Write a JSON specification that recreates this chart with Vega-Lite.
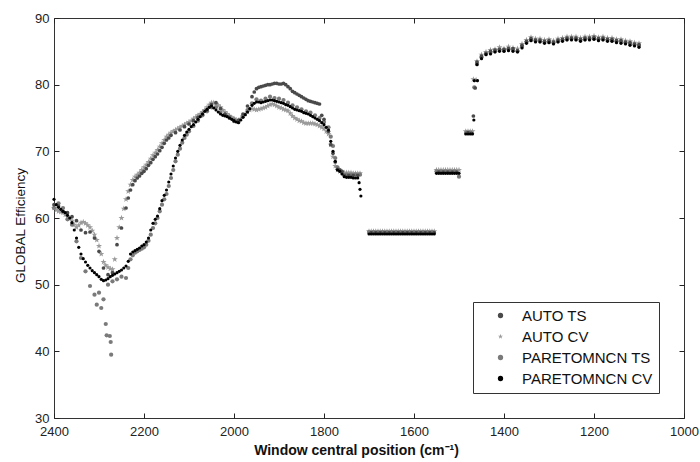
{
"$schema": "https://vega.github.io/schema/vega-lite/v6.json",
"width": 630, "height": 400,
"autosize": {"type": "none"},
"padding": {"left": 54, "top": 18, "right": 16, "bottom": 44},
"background": "white",
"config": {
  "font": "Liberation Sans",
  "view": {"stroke": "#333", "strokeWidth": 1},
  "axis": {"grid": false, "domain": false, "labelFont": "Liberation Sans", "labelFontSize": 13, "labelColor": "#222", "tickColor": "#222", "tickSize": 5, "tickWidth": 1, "labelFlush": false, "labelOverlap": false, "titleFont": "Liberation Sans", "titleColor": "#111"},
  "legend": {"labelFont": "Liberation Sans", "labelFontSize": 15, "labelColor": "#111", "strokeColor": "#333", "fillColor": "#fff", "padding": 6, "rowPadding": 5, "symbolSize": 28, "labelOffset": 14, "symbolOffset": 14}
},
"datasets": {
"pts": [
{"series":"AUTO CV","x":2400,"y":61.5},{"series":"AUTO CV","x":2390,"y":61.0},{"series":"AUTO CV","x":2380,"y":60.8},{"series":"AUTO CV","x":2370,"y":60.2},{"series":"AUTO CV","x":2360,"y":59.6},{"series":"AUTO CV","x":2350,"y":58.6},{"series":"AUTO CV","x":2340,"y":59.3},{"series":"AUTO CV","x":2330,"y":59.2},{"series":"AUTO CV","x":2320,"y":58.6},{"series":"AUTO CV","x":2310,"y":57.5},{"series":"AUTO CV","x":2300,"y":55.8},{"series":"AUTO CV","x":2290,"y":53.4},{"series":"AUTO CV","x":2280,"y":52.6},{"series":"AUTO CV","x":2270,"y":52.3},{"series":"AUTO CV","x":2265,"y":53.8},{"series":"AUTO CV","x":2260,"y":57.0},{"series":"AUTO CV","x":2250,"y":60.0},{"series":"AUTO CV","x":2240,"y":62.8},{"series":"AUTO CV","x":2230,"y":65.0},{"series":"AUTO CV","x":2220,"y":66.2},{"series":"AUTO CV","x":2210,"y":66.8},{"series":"AUTO CV","x":2200,"y":67.6},{"series":"AUTO CV","x":2190,"y":68.4},{"series":"AUTO CV","x":2180,"y":69.4},{"series":"AUTO CV","x":2170,"y":70.2},{"series":"AUTO CV","x":2160,"y":71.2},{"series":"AUTO CV","x":2150,"y":72.2},{"series":"AUTO CV","x":2140,"y":72.8},{"series":"AUTO CV","x":2130,"y":73.2},{"series":"AUTO CV","x":2120,"y":73.6},{"series":"AUTO CV","x":2110,"y":74.0},{"series":"AUTO CV","x":2100,"y":74.4},{"series":"AUTO CV","x":2090,"y":74.9},{"series":"AUTO CV","x":2080,"y":75.4},{"series":"AUTO CV","x":2070,"y":75.9},{"series":"AUTO CV","x":2060,"y":76.6},{"series":"AUTO CV","x":2050,"y":77.3},{"series":"AUTO CV","x":2040,"y":77.1},{"series":"AUTO CV","x":2030,"y":76.6},{"series":"AUTO CV","x":2020,"y":75.9},{"series":"AUTO CV","x":2010,"y":75.3},{"series":"AUTO CV","x":2000,"y":74.9},{"series":"AUTO CV","x":1990,"y":74.6},{"series":"AUTO CV","x":1980,"y":75.3},{"series":"AUTO CV","x":1970,"y":75.9},{"series":"AUTO CV","x":1960,"y":76.4},{"series":"AUTO CV","x":1950,"y":76.2},{"series":"AUTO CV","x":1940,"y":76.4},{"series":"AUTO CV","x":1930,"y":76.6},{"series":"AUTO CV","x":1920,"y":77.0},{"series":"AUTO CV","x":1910,"y":77.0},{"series":"AUTO CV","x":1900,"y":76.6},{"series":"AUTO CV","x":1890,"y":76.3},{"series":"AUTO CV","x":1880,"y":76.1},{"series":"AUTO CV","x":1870,"y":75.3},{"series":"AUTO CV","x":1860,"y":74.8},{"series":"AUTO CV","x":1850,"y":74.5},{"series":"AUTO CV","x":1840,"y":74.2},{"series":"AUTO CV","x":1830,"y":74.2},{"series":"AUTO CV","x":1820,"y":74.1},{"series":"AUTO CV","x":1810,"y":73.8},{"series":"AUTO CV","x":1800,"y":73.4},{"series":"AUTO CV","x":1790,"y":72.6},{"series":"AUTO CV","x":1785,"y":71.0},{"series":"AUTO CV","x":1780,"y":69.2},{"series":"AUTO CV","x":1775,"y":67.8},{"series":"AUTO CV","x":1770,"y":67.2},{"series":"AUTO CV","x":1765,"y":67.0},{"series":"AUTO CV","x":1760,"y":66.9},{"series":"AUTO CV","x":1755,"y":66.8},{"series":"AUTO CV","x":1750,"y":66.8},{"series":"AUTO CV","x":1745,"y":66.8},{"series":"AUTO CV","x":1740,"y":66.8},{"series":"AUTO CV","x":1735,"y":66.7},{"series":"AUTO CV","x":1730,"y":66.7},{"series":"AUTO CV","x":1725,"y":66.7},{"series":"AUTO CV","x":1720,"y":66.7},
{"series":"AUTO CV","x":2395,"y":61.2},{"series":"AUTO CV","x":2385,"y":60.9},{"series":"AUTO CV","x":2375,"y":60.5},{"series":"AUTO CV","x":2365,"y":59.9},{"series":"AUTO CV","x":2355,"y":59.0},{"series":"AUTO CV","x":2345,"y":58.9},{"series":"AUTO CV","x":2335,"y":59.4},{"series":"AUTO CV","x":2325,"y":58.9},{"series":"AUTO CV","x":2315,"y":58.1},{"series":"AUTO CV","x":2305,"y":56.7},{"series":"AUTO CV","x":2295,"y":54.6},{"series":"AUTO CV","x":2285,"y":52.9},{"series":"AUTO CV","x":2275,"y":52.4},{"series":"AUTO CV","x":2255,"y":58.6},{"series":"AUTO CV","x":2245,"y":61.4},{"series":"AUTO CV","x":2235,"y":64.0},{"series":"AUTO CV","x":2225,"y":65.7},{"series":"AUTO CV","x":2215,"y":66.5},{"series":"AUTO CV","x":2205,"y":67.2},{"series":"AUTO CV","x":2195,"y":68.0},{"series":"AUTO CV","x":2185,"y":68.9},{"series":"AUTO CV","x":2175,"y":69.8},{"series":"AUTO CV","x":2165,"y":70.7},{"series":"AUTO CV","x":2155,"y":71.7},{"series":"AUTO CV","x":2145,"y":72.5},{"series":"AUTO CV","x":2135,"y":73.0},{"series":"AUTO CV","x":2125,"y":73.4},{"series":"AUTO CV","x":2115,"y":73.8},{"series":"AUTO CV","x":2105,"y":74.2},{"series":"AUTO CV","x":2095,"y":74.6},{"series":"AUTO CV","x":2085,"y":75.1},{"series":"AUTO CV","x":2075,"y":75.6},{"series":"AUTO CV","x":2065,"y":76.2},{"series":"AUTO CV","x":2055,"y":77.0},{"series":"AUTO CV","x":2045,"y":77.3},{"series":"AUTO CV","x":2035,"y":76.9},{"series":"AUTO CV","x":2025,"y":76.2},{"series":"AUTO CV","x":2015,"y":75.6},{"series":"AUTO CV","x":2005,"y":75.1},{"series":"AUTO CV","x":1995,"y":74.7},{"series":"AUTO CV","x":1985,"y":74.9},{"series":"AUTO CV","x":1975,"y":75.6},{"series":"AUTO CV","x":1965,"y":76.2},{"series":"AUTO CV","x":1955,"y":76.3},{"series":"AUTO CV","x":1945,"y":76.3},{"series":"AUTO CV","x":1935,"y":76.5},{"series":"AUTO CV","x":1925,"y":76.8},{"series":"AUTO CV","x":1915,"y":77.1},{"series":"AUTO CV","x":1905,"y":76.8},{"series":"AUTO CV","x":1895,"y":76.5},{"series":"AUTO CV","x":1885,"y":76.2},{"series":"AUTO CV","x":1875,"y":75.7},{"series":"AUTO CV","x":1865,"y":75.0},{"series":"AUTO CV","x":1855,"y":74.6},{"series":"AUTO CV","x":1845,"y":74.3},{"series":"AUTO CV","x":1835,"y":74.2},{"series":"AUTO CV","x":1825,"y":74.2},{"series":"AUTO CV","x":1815,"y":74.0},{"series":"AUTO CV","x":1805,"y":73.6},{"series":"AUTO CV","x":1795,"y":73.0},
{"series":"AUTO CV","x":1700,"y":58.0},{"series":"AUTO CV","x":1695,"y":58.0},{"series":"AUTO CV","x":1690,"y":58.0},{"series":"AUTO CV","x":1685,"y":58.0},{"series":"AUTO CV","x":1680,"y":58.0},{"series":"AUTO CV","x":1675,"y":58.0},{"series":"AUTO CV","x":1670,"y":58.0},{"series":"AUTO CV","x":1665,"y":58.0},{"series":"AUTO CV","x":1660,"y":58.0},{"series":"AUTO CV","x":1655,"y":58.0},{"series":"AUTO CV","x":1650,"y":58.0},{"series":"AUTO CV","x":1645,"y":58.0},{"series":"AUTO CV","x":1640,"y":58.0},{"series":"AUTO CV","x":1635,"y":58.0},{"series":"AUTO CV","x":1630,"y":58.0},{"series":"AUTO CV","x":1625,"y":58.0},{"series":"AUTO CV","x":1620,"y":58.0},{"series":"AUTO CV","x":1615,"y":58.0},{"series":"AUTO CV","x":1610,"y":58.0},{"series":"AUTO CV","x":1605,"y":58.0},{"series":"AUTO CV","x":1600,"y":58.0},{"series":"AUTO CV","x":1595,"y":58.0},{"series":"AUTO CV","x":1590,"y":58.0},{"series":"AUTO CV","x":1585,"y":58.0},{"series":"AUTO CV","x":1580,"y":58.0},{"series":"AUTO CV","x":1575,"y":58.0},{"series":"AUTO CV","x":1570,"y":58.0},{"series":"AUTO CV","x":1565,"y":58.0},{"series":"AUTO CV","x":1560,"y":58.0},{"series":"AUTO CV","x":1555,"y":58.0},
{"series":"AUTO CV","x":1550,"y":67.2},{"series":"AUTO CV","x":1545,"y":67.2},{"series":"AUTO CV","x":1540,"y":67.2},{"series":"AUTO CV","x":1535,"y":67.2},{"series":"AUTO CV","x":1530,"y":67.2},{"series":"AUTO CV","x":1525,"y":67.2},{"series":"AUTO CV","x":1520,"y":67.2},{"series":"AUTO CV","x":1515,"y":67.2},{"series":"AUTO CV","x":1510,"y":67.2},{"series":"AUTO CV","x":1505,"y":67.2},{"series":"AUTO CV","x":1500,"y":67.2},
{"series":"AUTO CV","x":1485,"y":73.0},{"series":"AUTO CV","x":1480,"y":73.0},{"series":"AUTO CV","x":1475,"y":73.0},{"series":"AUTO CV","x":1470,"y":73.0},{"series":"AUTO CV","x":1468,"y":80.8},{"series":"AUTO CV","x":1462,"y":80.7},
{"series":"AUTO CV","x":1460,"y":83.5},{"series":"AUTO CV","x":1450,"y":84.5},{"series":"AUTO CV","x":1440,"y":84.9},{"series":"AUTO CV","x":1430,"y":85.2},{"series":"AUTO CV","x":1420,"y":85.3},{"series":"AUTO CV","x":1410,"y":85.6},{"series":"AUTO CV","x":1400,"y":85.4},{"series":"AUTO CV","x":1390,"y":85.7},{"series":"AUTO CV","x":1380,"y":85.5},{"series":"AUTO CV","x":1370,"y":85.4},{"series":"AUTO CV","x":1360,"y":86.1},{"series":"AUTO CV","x":1350,"y":86.7},{"series":"AUTO CV","x":1340,"y":87.1},{"series":"AUTO CV","x":1330,"y":86.9},{"series":"AUTO CV","x":1320,"y":86.9},{"series":"AUTO CV","x":1310,"y":86.7},{"series":"AUTO CV","x":1300,"y":86.8},{"series":"AUTO CV","x":1290,"y":86.6},{"series":"AUTO CV","x":1280,"y":86.9},{"series":"AUTO CV","x":1270,"y":87.0},{"series":"AUTO CV","x":1260,"y":87.2},{"series":"AUTO CV","x":1250,"y":87.2},{"series":"AUTO CV","x":1240,"y":87.2},{"series":"AUTO CV","x":1230,"y":87.0},{"series":"AUTO CV","x":1220,"y":87.2},{"series":"AUTO CV","x":1210,"y":87.2},{"series":"AUTO CV","x":1200,"y":87.3},{"series":"AUTO CV","x":1190,"y":87.1},{"series":"AUTO CV","x":1180,"y":87.2},{"series":"AUTO CV","x":1170,"y":87.0},{"series":"AUTO CV","x":1160,"y":87.0},{"series":"AUTO CV","x":1150,"y":86.8},{"series":"AUTO CV","x":1140,"y":86.8},{"series":"AUTO CV","x":1130,"y":86.6},{"series":"AUTO CV","x":1120,"y":86.5},{"series":"AUTO CV","x":1110,"y":86.3},{"series":"AUTO CV","x":1100,"y":86.2},

{"series":"PARETOMNCN TS","x":2400,"y":61.5},{"series":"PARETOMNCN TS","x":2390,"y":62.2},{"series":"PARETOMNCN TS","x":2380,"y":61.5},{"series":"PARETOMNCN TS","x":2370,"y":59.8},{"series":"PARETOMNCN TS","x":2360,"y":59.0},{"series":"PARETOMNCN TS","x":2350,"y":56.5},{"series":"PARETOMNCN TS","x":2340,"y":54.0},{"series":"PARETOMNCN TS","x":2330,"y":52.0},{"series":"PARETOMNCN TS","x":2320,"y":49.8},{"series":"PARETOMNCN TS","x":2310,"y":48.5},{"series":"PARETOMNCN TS","x":2305,"y":47.0},{"series":"PARETOMNCN TS","x":2300,"y":48.8},{"series":"PARETOMNCN TS","x":2295,"y":46.5},{"series":"PARETOMNCN TS","x":2290,"y":47.8},{"series":"PARETOMNCN TS","x":2285,"y":44.1},{"series":"PARETOMNCN TS","x":2283,"y":42.4},{"series":"PARETOMNCN TS","x":2276,"y":42.3},{"series":"PARETOMNCN TS","x":2274,"y":41.4},{"series":"PARETOMNCN TS","x":2273,"y":39.5},{"series":"PARETOMNCN TS","x":2280,"y":50.0},{"series":"PARETOMNCN TS","x":2270,"y":50.5},{"series":"PARETOMNCN TS","x":2260,"y":50.8},{"series":"PARETOMNCN TS","x":2250,"y":51.2},{"series":"PARETOMNCN TS","x":2240,"y":51.0},{"series":"PARETOMNCN TS","x":2230,"y":53.8},{"series":"PARETOMNCN TS","x":2220,"y":54.8},{"series":"PARETOMNCN TS","x":2210,"y":55.2},{"series":"PARETOMNCN TS","x":2200,"y":55.6},{"series":"PARETOMNCN TS","x":2190,"y":56.6},{"series":"PARETOMNCN TS","x":2180,"y":58.5},{"series":"PARETOMNCN TS","x":2170,"y":60.0},{"series":"PARETOMNCN TS","x":2160,"y":62.0},{"series":"PARETOMNCN TS","x":2150,"y":63.6},{"series":"PARETOMNCN TS","x":2140,"y":66.0},{"series":"PARETOMNCN TS","x":2130,"y":68.5},{"series":"PARETOMNCN TS","x":2120,"y":70.4},{"series":"PARETOMNCN TS","x":2110,"y":72.0},{"series":"PARETOMNCN TS","x":2100,"y":73.0},{"series":"PARETOMNCN TS","x":2090,"y":73.8},{"series":"PARETOMNCN TS","x":2080,"y":74.6},{"series":"PARETOMNCN TS","x":2070,"y":75.4},{"series":"PARETOMNCN TS","x":2060,"y":76.0},{"series":"PARETOMNCN TS","x":2050,"y":76.6},{"series":"PARETOMNCN TS","x":2040,"y":76.6},{"series":"PARETOMNCN TS","x":2030,"y":75.8},{"series":"PARETOMNCN TS","x":2020,"y":75.5},{"series":"PARETOMNCN TS","x":2010,"y":75.2},{"series":"PARETOMNCN TS","x":2000,"y":74.8},{"series":"PARETOMNCN TS","x":1990,"y":74.4},{"series":"PARETOMNCN TS","x":1980,"y":75.3},{"series":"PARETOMNCN TS","x":1970,"y":76.2},{"series":"PARETOMNCN TS","x":1960,"y":77.2},{"series":"PARETOMNCN TS","x":1950,"y":77.8},{"series":"PARETOMNCN TS","x":1940,"y":77.6},{"series":"PARETOMNCN TS","x":1930,"y":77.9},{"series":"PARETOMNCN TS","x":1920,"y":78.2},{"series":"PARETOMNCN TS","x":1910,"y":78.0},{"series":"PARETOMNCN TS","x":1900,"y":77.9},{"series":"PARETOMNCN TS","x":1890,"y":77.7},{"series":"PARETOMNCN TS","x":1880,"y":77.3},{"series":"PARETOMNCN TS","x":1870,"y":76.9},{"series":"PARETOMNCN TS","x":1860,"y":76.6},{"series":"PARETOMNCN TS","x":1850,"y":76.3},{"series":"PARETOMNCN TS","x":1840,"y":76.0},{"series":"PARETOMNCN TS","x":1830,"y":75.8},{"series":"PARETOMNCN TS","x":1820,"y":75.4},{"series":"PARETOMNCN TS","x":1810,"y":75.0},{"series":"PARETOMNCN TS","x":1800,"y":74.4},{"series":"PARETOMNCN TS","x":1790,"y":73.6},{"series":"PARETOMNCN TS","x":1785,"y":72.2},{"series":"PARETOMNCN TS","x":1780,"y":70.8},{"series":"PARETOMNCN TS","x":1775,"y":69.0},{"series":"PARETOMNCN TS","x":1770,"y":67.6},{"series":"PARETOMNCN TS","x":1765,"y":67.2},{"series":"PARETOMNCN TS","x":1760,"y":66.9},{"series":"PARETOMNCN TS","x":1750,"y":66.5},{"series":"PARETOMNCN TS","x":1740,"y":66.5},{"series":"PARETOMNCN TS","x":1730,"y":66.5},{"series":"PARETOMNCN TS","x":1720,"y":66.5},
{"series":"PARETOMNCN TS","x":2235,"y":52.5},{"series":"PARETOMNCN TS","x":2225,"y":54.4},{"series":"PARETOMNCN TS","x":2215,"y":55.0},{"series":"PARETOMNCN TS","x":2205,"y":55.4},{"series":"PARETOMNCN TS","x":2195,"y":56.0},{"series":"PARETOMNCN TS","x":2185,"y":57.5},{"series":"PARETOMNCN TS","x":2175,"y":59.2},{"series":"PARETOMNCN TS","x":2165,"y":61.0},{"series":"PARETOMNCN TS","x":2155,"y":62.8},{"series":"PARETOMNCN TS","x":2145,"y":64.8},{"series":"PARETOMNCN TS","x":2135,"y":67.2},{"series":"PARETOMNCN TS","x":2125,"y":69.5},{"series":"PARETOMNCN TS","x":2115,"y":71.3},{"series":"PARETOMNCN TS","x":2105,"y":72.5},
{"series":"PARETOMNCN TS","x":1700,"y":57.9},{"series":"PARETOMNCN TS","x":1690,"y":57.9},{"series":"PARETOMNCN TS","x":1680,"y":57.9},{"series":"PARETOMNCN TS","x":1670,"y":57.9},{"series":"PARETOMNCN TS","x":1660,"y":57.9},{"series":"PARETOMNCN TS","x":1650,"y":57.9},{"series":"PARETOMNCN TS","x":1640,"y":57.9},{"series":"PARETOMNCN TS","x":1630,"y":57.9},{"series":"PARETOMNCN TS","x":1620,"y":57.9},{"series":"PARETOMNCN TS","x":1610,"y":57.9},{"series":"PARETOMNCN TS","x":1600,"y":57.9},{"series":"PARETOMNCN TS","x":1590,"y":57.9},{"series":"PARETOMNCN TS","x":1580,"y":57.9},{"series":"PARETOMNCN TS","x":1570,"y":57.9},{"series":"PARETOMNCN TS","x":1560,"y":57.9},
{"series":"PARETOMNCN TS","x":1550,"y":67.0},{"series":"PARETOMNCN TS","x":1540,"y":67.0},{"series":"PARETOMNCN TS","x":1530,"y":67.0},{"series":"PARETOMNCN TS","x":1520,"y":67.0},{"series":"PARETOMNCN TS","x":1510,"y":67.0},{"series":"PARETOMNCN TS","x":1500,"y":66.2},
{"series":"PARETOMNCN TS","x":1484,"y":72.8},{"series":"PARETOMNCN TS","x":1476,"y":72.8},{"series":"PARETOMNCN TS","x":1466,"y":79.6},
{"series":"PARETOMNCN TS","x":1460,"y":83.1},{"series":"PARETOMNCN TS","x":1450,"y":84.1},{"series":"PARETOMNCN TS","x":1440,"y":84.6},{"series":"PARETOMNCN TS","x":1430,"y":84.8},{"series":"PARETOMNCN TS","x":1420,"y":85.0},{"series":"PARETOMNCN TS","x":1410,"y":85.2},{"series":"PARETOMNCN TS","x":1400,"y":85.1},{"series":"PARETOMNCN TS","x":1390,"y":85.3},{"series":"PARETOMNCN TS","x":1380,"y":85.2},{"series":"PARETOMNCN TS","x":1370,"y":85.0},{"series":"PARETOMNCN TS","x":1360,"y":85.7},{"series":"PARETOMNCN TS","x":1350,"y":86.4},{"series":"PARETOMNCN TS","x":1340,"y":86.7},{"series":"PARETOMNCN TS","x":1330,"y":86.6},{"series":"PARETOMNCN TS","x":1320,"y":86.5},{"series":"PARETOMNCN TS","x":1310,"y":86.4},{"series":"PARETOMNCN TS","x":1300,"y":86.4},{"series":"PARETOMNCN TS","x":1290,"y":86.3},{"series":"PARETOMNCN TS","x":1280,"y":86.5},{"series":"PARETOMNCN TS","x":1270,"y":86.7},{"series":"PARETOMNCN TS","x":1260,"y":86.8},{"series":"PARETOMNCN TS","x":1250,"y":86.9},{"series":"PARETOMNCN TS","x":1240,"y":86.8},{"series":"PARETOMNCN TS","x":1230,"y":86.7},{"series":"PARETOMNCN TS","x":1220,"y":86.8},{"series":"PARETOMNCN TS","x":1210,"y":86.9},{"series":"PARETOMNCN TS","x":1200,"y":86.9},{"series":"PARETOMNCN TS","x":1190,"y":86.8},{"series":"PARETOMNCN TS","x":1180,"y":86.8},{"series":"PARETOMNCN TS","x":1170,"y":86.7},{"series":"PARETOMNCN TS","x":1160,"y":86.6},{"series":"PARETOMNCN TS","x":1150,"y":86.5},{"series":"PARETOMNCN TS","x":1140,"y":86.4},{"series":"PARETOMNCN TS","x":1130,"y":86.3},{"series":"PARETOMNCN TS","x":1120,"y":86.1},{"series":"PARETOMNCN TS","x":1110,"y":86.0},{"series":"PARETOMNCN TS","x":1100,"y":85.8},

{"series":"AUTO TS","x":2400,"y":62.0},{"series":"AUTO TS","x":2390,"y":61.8},{"series":"AUTO TS","x":2380,"y":61.0},{"series":"AUTO TS","x":2370,"y":60.8},{"series":"AUTO TS","x":2360,"y":60.2},{"series":"AUTO TS","x":2350,"y":59.6},{"series":"AUTO TS","x":2340,"y":58.2},{"series":"AUTO TS","x":2330,"y":57.8},{"series":"AUTO TS","x":2320,"y":57.9},{"series":"AUTO TS","x":2310,"y":57.0},{"series":"AUTO TS","x":2300,"y":55.0},{"series":"AUTO TS","x":2290,"y":52.5},{"series":"AUTO TS","x":2280,"y":51.5},{"series":"AUTO TS","x":2270,"y":51.8},{"series":"AUTO TS","x":2260,"y":56.0},{"series":"AUTO TS","x":2250,"y":58.5},{"series":"AUTO TS","x":2240,"y":61.5},{"series":"AUTO TS","x":2230,"y":64.2},{"series":"AUTO TS","x":2220,"y":65.6},{"series":"AUTO TS","x":2210,"y":66.3},{"series":"AUTO TS","x":2200,"y":67.0},{"series":"AUTO TS","x":2190,"y":67.9},{"series":"AUTO TS","x":2180,"y":68.8},{"series":"AUTO TS","x":2170,"y":69.6},{"series":"AUTO TS","x":2160,"y":70.6},{"series":"AUTO TS","x":2150,"y":71.7},{"series":"AUTO TS","x":2140,"y":72.4},{"series":"AUTO TS","x":2130,"y":72.8},{"series":"AUTO TS","x":2120,"y":73.2},{"series":"AUTO TS","x":2110,"y":73.7},{"series":"AUTO TS","x":2100,"y":74.1},{"series":"AUTO TS","x":2090,"y":74.6},{"series":"AUTO TS","x":2080,"y":75.1},{"series":"AUTO TS","x":2070,"y":75.6},{"series":"AUTO TS","x":2060,"y":76.2},{"series":"AUTO TS","x":2050,"y":77.0},{"series":"AUTO TS","x":2040,"y":77.3},{"series":"AUTO TS","x":2030,"y":76.4},{"series":"AUTO TS","x":2020,"y":75.6},{"series":"AUTO TS","x":2010,"y":75.0},{"series":"AUTO TS","x":2000,"y":74.5},{"series":"AUTO TS","x":1990,"y":74.7},{"series":"AUTO TS","x":1980,"y":75.6},{"series":"AUTO TS","x":1970,"y":76.8},{"series":"AUTO TS","x":1960,"y":78.2},{"series":"AUTO TS","x":1950,"y":79.4},{"series":"AUTO TS","x":1940,"y":79.7},{"series":"AUTO TS","x":1930,"y":79.9},{"series":"AUTO TS","x":1920,"y":80.0},{"series":"AUTO TS","x":1910,"y":80.2},{"series":"AUTO TS","x":1900,"y":80.1},{"series":"AUTO TS","x":1890,"y":80.2},{"series":"AUTO TS","x":1880,"y":79.7},{"series":"AUTO TS","x":1870,"y":79.0},{"series":"AUTO TS","x":1860,"y":78.6},{"series":"AUTO TS","x":1850,"y":78.2},{"series":"AUTO TS","x":1840,"y":77.8},{"series":"AUTO TS","x":1830,"y":77.5},{"series":"AUTO TS","x":1820,"y":77.3},{"series":"AUTO TS","x":1810,"y":77.1},{"series":"AUTO TS","x":1805,"y":75.4},{"series":"AUTO TS","x":1800,"y":74.8},{"series":"AUTO TS","x":1790,"y":73.0},{"series":"AUTO TS","x":1785,"y":71.0},{"series":"AUTO TS","x":1780,"y":69.7},{"series":"AUTO TS","x":1775,"y":68.4},{"series":"AUTO TS","x":1770,"y":67.3},{"series":"AUTO TS","x":1765,"y":67.2},{"series":"AUTO TS","x":1760,"y":67.0},{"series":"AUTO TS","x":1755,"y":66.4},{"series":"AUTO TS","x":1745,"y":66.4},{"series":"AUTO TS","x":1735,"y":66.4},{"series":"AUTO TS","x":1725,"y":66.4},
{"series":"AUTO TS","x":1955,"y":78.9},{"series":"AUTO TS","x":1945,"y":79.6},{"series":"AUTO TS","x":1935,"y":79.8},{"series":"AUTO TS","x":1925,"y":80.0},{"series":"AUTO TS","x":1915,"y":80.1},{"series":"AUTO TS","x":1905,"y":80.2},{"series":"AUTO TS","x":1895,"y":80.1},{"series":"AUTO TS","x":1885,"y":80.0},{"series":"AUTO TS","x":1875,"y":79.4},{"series":"AUTO TS","x":1865,"y":78.8},{"series":"AUTO TS","x":1855,"y":78.4},{"series":"AUTO TS","x":1845,"y":78.0},{"series":"AUTO TS","x":1835,"y":77.6},{"series":"AUTO TS","x":1825,"y":77.4},{"series":"AUTO TS","x":1815,"y":77.2},
{"series":"AUTO TS","x":2235,"y":63.0},{"series":"AUTO TS","x":2225,"y":65.0},{"series":"AUTO TS","x":2215,"y":66.0},{"series":"AUTO TS","x":2205,"y":66.7},{"series":"AUTO TS","x":2195,"y":67.4},{"series":"AUTO TS","x":2185,"y":68.3},{"series":"AUTO TS","x":2175,"y":69.2},{"series":"AUTO TS","x":2165,"y":70.1},{"series":"AUTO TS","x":2155,"y":71.2},{"series":"AUTO TS","x":2145,"y":72.0},
{"series":"AUTO TS","x":1695,"y":57.8},{"series":"AUTO TS","x":1685,"y":57.8},{"series":"AUTO TS","x":1675,"y":57.8},{"series":"AUTO TS","x":1665,"y":57.8},{"series":"AUTO TS","x":1655,"y":57.8},{"series":"AUTO TS","x":1645,"y":57.8},{"series":"AUTO TS","x":1635,"y":57.8},{"series":"AUTO TS","x":1625,"y":57.8},{"series":"AUTO TS","x":1615,"y":57.8},{"series":"AUTO TS","x":1605,"y":57.8},{"series":"AUTO TS","x":1595,"y":57.8},{"series":"AUTO TS","x":1585,"y":57.8},{"series":"AUTO TS","x":1575,"y":57.8},{"series":"AUTO TS","x":1565,"y":57.8},{"series":"AUTO TS","x":1555,"y":57.8},
{"series":"AUTO TS","x":1545,"y":66.9},{"series":"AUTO TS","x":1535,"y":66.9},{"series":"AUTO TS","x":1525,"y":66.9},{"series":"AUTO TS","x":1515,"y":66.9},{"series":"AUTO TS","x":1505,"y":66.9},
{"series":"AUTO TS","x":1480,"y":72.8},{"series":"AUTO TS","x":1472,"y":72.7},{"series":"AUTO TS","x":1468,"y":75.3},{"series":"AUTO TS","x":1464,"y":79.5},
{"series":"AUTO TS","x":1460,"y":83.4},{"series":"AUTO TS","x":1450,"y":84.3},{"series":"AUTO TS","x":1440,"y":84.7},{"series":"AUTO TS","x":1430,"y":85.0},{"series":"AUTO TS","x":1420,"y":85.2},{"series":"AUTO TS","x":1410,"y":85.3},{"series":"AUTO TS","x":1400,"y":85.3},{"series":"AUTO TS","x":1390,"y":85.4},{"series":"AUTO TS","x":1380,"y":85.4},{"series":"AUTO TS","x":1370,"y":85.1},{"series":"AUTO TS","x":1360,"y":85.9},{"series":"AUTO TS","x":1350,"y":86.5},{"series":"AUTO TS","x":1340,"y":86.9},{"series":"AUTO TS","x":1330,"y":86.7},{"series":"AUTO TS","x":1320,"y":86.7},{"series":"AUTO TS","x":1310,"y":86.5},{"series":"AUTO TS","x":1300,"y":86.6},{"series":"AUTO TS","x":1290,"y":86.4},{"series":"AUTO TS","x":1280,"y":86.7},{"series":"AUTO TS","x":1270,"y":86.8},{"series":"AUTO TS","x":1260,"y":87.0},{"series":"AUTO TS","x":1250,"y":87.0},{"series":"AUTO TS","x":1240,"y":87.0},{"series":"AUTO TS","x":1230,"y":86.8},{"series":"AUTO TS","x":1220,"y":87.0},{"series":"AUTO TS","x":1210,"y":87.0},{"series":"AUTO TS","x":1200,"y":87.1},{"series":"AUTO TS","x":1190,"y":86.9},{"series":"AUTO TS","x":1180,"y":87.0},{"series":"AUTO TS","x":1170,"y":86.8},{"series":"AUTO TS","x":1160,"y":86.8},{"series":"AUTO TS","x":1150,"y":86.6},{"series":"AUTO TS","x":1140,"y":86.6},{"series":"AUTO TS","x":1130,"y":86.4},{"series":"AUTO TS","x":1120,"y":86.3},{"series":"AUTO TS","x":1110,"y":86.1},{"series":"AUTO TS","x":1100,"y":86.0},

{"series":"PARETOMNCN CV","x":2400,"y":62.8},{"series":"PARETOMNCN CV","x":2390,"y":61.6},{"series":"PARETOMNCN CV","x":2380,"y":61.0},{"series":"PARETOMNCN CV","x":2370,"y":60.4},{"series":"PARETOMNCN CV","x":2360,"y":59.3},{"series":"PARETOMNCN CV","x":2350,"y":57.0},{"series":"PARETOMNCN CV","x":2340,"y":54.6},{"series":"PARETOMNCN CV","x":2330,"y":53.4},{"series":"PARETOMNCN CV","x":2320,"y":52.5},{"series":"PARETOMNCN CV","x":2310,"y":51.8},{"series":"PARETOMNCN CV","x":2300,"y":51.2},{"series":"PARETOMNCN CV","x":2290,"y":50.6},{"series":"PARETOMNCN CV","x":2280,"y":50.9},{"series":"PARETOMNCN CV","x":2270,"y":51.4},{"series":"PARETOMNCN CV","x":2260,"y":51.8},{"series":"PARETOMNCN CV","x":2250,"y":52.2},{"series":"PARETOMNCN CV","x":2240,"y":52.8},{"series":"PARETOMNCN CV","x":2230,"y":54.6},{"series":"PARETOMNCN CV","x":2220,"y":55.1},{"series":"PARETOMNCN CV","x":2210,"y":55.5},{"series":"PARETOMNCN CV","x":2200,"y":56.0},{"series":"PARETOMNCN CV","x":2190,"y":57.0},{"series":"PARETOMNCN CV","x":2180,"y":59.2},{"series":"PARETOMNCN CV","x":2170,"y":60.3},{"series":"PARETOMNCN CV","x":2160,"y":62.6},{"series":"PARETOMNCN CV","x":2150,"y":64.2},{"series":"PARETOMNCN CV","x":2140,"y":66.6},{"series":"PARETOMNCN CV","x":2130,"y":69.0},{"series":"PARETOMNCN CV","x":2120,"y":70.9},{"series":"PARETOMNCN CV","x":2110,"y":72.4},{"series":"PARETOMNCN CV","x":2100,"y":73.3},{"series":"PARETOMNCN CV","x":2090,"y":74.0},{"series":"PARETOMNCN CV","x":2080,"y":74.8},{"series":"PARETOMNCN CV","x":2070,"y":75.6},{"series":"PARETOMNCN CV","x":2060,"y":76.3},{"series":"PARETOMNCN CV","x":2050,"y":76.8},{"series":"PARETOMNCN CV","x":2040,"y":76.2},{"series":"PARETOMNCN CV","x":2030,"y":75.6},{"series":"PARETOMNCN CV","x":2020,"y":75.3},{"series":"PARETOMNCN CV","x":2010,"y":75.0},{"series":"PARETOMNCN CV","x":2000,"y":74.6},{"series":"PARETOMNCN CV","x":1990,"y":74.3},{"series":"PARETOMNCN CV","x":1980,"y":75.1},{"series":"PARETOMNCN CV","x":1970,"y":75.9},{"series":"PARETOMNCN CV","x":1960,"y":76.9},{"series":"PARETOMNCN CV","x":1950,"y":77.4},{"series":"PARETOMNCN CV","x":1940,"y":77.3},{"series":"PARETOMNCN CV","x":1930,"y":77.5},{"series":"PARETOMNCN CV","x":1920,"y":77.7},{"series":"PARETOMNCN CV","x":1910,"y":77.6},{"series":"PARETOMNCN CV","x":1900,"y":77.4},{"series":"PARETOMNCN CV","x":1890,"y":77.2},{"series":"PARETOMNCN CV","x":1880,"y":76.9},{"series":"PARETOMNCN CV","x":1870,"y":76.5},{"series":"PARETOMNCN CV","x":1860,"y":76.2},{"series":"PARETOMNCN CV","x":1850,"y":76.0},{"series":"PARETOMNCN CV","x":1840,"y":75.7},{"series":"PARETOMNCN CV","x":1830,"y":75.4},{"series":"PARETOMNCN CV","x":1820,"y":75.0},{"series":"PARETOMNCN CV","x":1810,"y":74.6},{"series":"PARETOMNCN CV","x":1800,"y":74.0},{"series":"PARETOMNCN CV","x":1790,"y":73.2},{"series":"PARETOMNCN CV","x":1785,"y":71.5},{"series":"PARETOMNCN CV","x":1780,"y":70.0},{"series":"PARETOMNCN CV","x":1775,"y":68.5},{"series":"PARETOMNCN CV","x":1770,"y":67.2},{"series":"PARETOMNCN CV","x":1765,"y":67.0},{"series":"PARETOMNCN CV","x":1760,"y":66.6},{"series":"PARETOMNCN CV","x":1755,"y":66.2},{"series":"PARETOMNCN CV","x":1750,"y":66.1},{"series":"PARETOMNCN CV","x":1745,"y":66.1},{"series":"PARETOMNCN CV","x":1740,"y":66.1},{"series":"PARETOMNCN CV","x":1735,"y":66.0},{"series":"PARETOMNCN CV","x":1730,"y":66.0},{"series":"PARETOMNCN CV","x":1725,"y":66.0},{"series":"PARETOMNCN CV","x":1722,"y":65.3},{"series":"PARETOMNCN CV","x":1720,"y":64.3},{"series":"PARETOMNCN CV","x":1718,"y":63.3},
{"series":"PARETOMNCN CV","x":2395,"y":62.0},{"series":"PARETOMNCN CV","x":2385,"y":61.3},{"series":"PARETOMNCN CV","x":2375,"y":60.8},{"series":"PARETOMNCN CV","x":2365,"y":60.0},{"series":"PARETOMNCN CV","x":2355,"y":58.2},{"series":"PARETOMNCN CV","x":2345,"y":55.6},{"series":"PARETOMNCN CV","x":2335,"y":53.9},{"series":"PARETOMNCN CV","x":2325,"y":52.9},{"series":"PARETOMNCN CV","x":2315,"y":52.1},{"series":"PARETOMNCN CV","x":2305,"y":51.5},{"series":"PARETOMNCN CV","x":2295,"y":50.8},{"series":"PARETOMNCN CV","x":2285,"y":50.7},{"series":"PARETOMNCN CV","x":2275,"y":51.2},{"series":"PARETOMNCN CV","x":2265,"y":51.6},{"series":"PARETOMNCN CV","x":2255,"y":52.0},{"series":"PARETOMNCN CV","x":2245,"y":52.5},{"series":"PARETOMNCN CV","x":2235,"y":53.5},{"series":"PARETOMNCN CV","x":2225,"y":54.9},{"series":"PARETOMNCN CV","x":2215,"y":55.3},{"series":"PARETOMNCN CV","x":2205,"y":55.8},{"series":"PARETOMNCN CV","x":2195,"y":56.4},{"series":"PARETOMNCN CV","x":2185,"y":58.2},{"series":"PARETOMNCN CV","x":2175,"y":59.8},{"series":"PARETOMNCN CV","x":2165,"y":61.4},{"series":"PARETOMNCN CV","x":2155,"y":63.4},{"series":"PARETOMNCN CV","x":2145,"y":65.4},{"series":"PARETOMNCN CV","x":2135,"y":67.8},{"series":"PARETOMNCN CV","x":2125,"y":70.0},{"series":"PARETOMNCN CV","x":2115,"y":71.7},{"series":"PARETOMNCN CV","x":2105,"y":72.9},{"series":"PARETOMNCN CV","x":2095,"y":73.7},{"series":"PARETOMNCN CV","x":2085,"y":74.4},{"series":"PARETOMNCN CV","x":2075,"y":75.2},{"series":"PARETOMNCN CV","x":2065,"y":76.0},{"series":"PARETOMNCN CV","x":2055,"y":76.6},{"series":"PARETOMNCN CV","x":2045,"y":76.5},{"series":"PARETOMNCN CV","x":2035,"y":75.9},{"series":"PARETOMNCN CV","x":2025,"y":75.4},{"series":"PARETOMNCN CV","x":2015,"y":75.2},{"series":"PARETOMNCN CV","x":2005,"y":74.8},{"series":"PARETOMNCN CV","x":1995,"y":74.4},{"series":"PARETOMNCN CV","x":1985,"y":74.7},{"series":"PARETOMNCN CV","x":1975,"y":75.5},{"series":"PARETOMNCN CV","x":1965,"y":76.4},{"series":"PARETOMNCN CV","x":1955,"y":77.2},{"series":"PARETOMNCN CV","x":1945,"y":77.4},{"series":"PARETOMNCN CV","x":1935,"y":77.4},{"series":"PARETOMNCN CV","x":1925,"y":77.6},{"series":"PARETOMNCN CV","x":1915,"y":77.7},{"series":"PARETOMNCN CV","x":1905,"y":77.5},{"series":"PARETOMNCN CV","x":1895,"y":77.3},{"series":"PARETOMNCN CV","x":1885,"y":77.0},{"series":"PARETOMNCN CV","x":1875,"y":76.7},{"series":"PARETOMNCN CV","x":1865,"y":76.3},{"series":"PARETOMNCN CV","x":1855,"y":76.1},{"series":"PARETOMNCN CV","x":1845,"y":75.8},{"series":"PARETOMNCN CV","x":1835,"y":75.6},{"series":"PARETOMNCN CV","x":1825,"y":75.2},{"series":"PARETOMNCN CV","x":1815,"y":74.8},{"series":"PARETOMNCN CV","x":1805,"y":74.3},{"series":"PARETOMNCN CV","x":1795,"y":73.6},
{"series":"PARETOMNCN CV","x":1700,"y":57.6},{"series":"PARETOMNCN CV","x":1695,"y":57.6},{"series":"PARETOMNCN CV","x":1690,"y":57.6},{"series":"PARETOMNCN CV","x":1685,"y":57.6},{"series":"PARETOMNCN CV","x":1680,"y":57.6},{"series":"PARETOMNCN CV","x":1675,"y":57.6},{"series":"PARETOMNCN CV","x":1670,"y":57.6},{"series":"PARETOMNCN CV","x":1665,"y":57.6},{"series":"PARETOMNCN CV","x":1660,"y":57.6},{"series":"PARETOMNCN CV","x":1655,"y":57.6},{"series":"PARETOMNCN CV","x":1650,"y":57.6},{"series":"PARETOMNCN CV","x":1645,"y":57.6},{"series":"PARETOMNCN CV","x":1640,"y":57.6},{"series":"PARETOMNCN CV","x":1635,"y":57.6},{"series":"PARETOMNCN CV","x":1630,"y":57.6},{"series":"PARETOMNCN CV","x":1625,"y":57.6},{"series":"PARETOMNCN CV","x":1620,"y":57.6},{"series":"PARETOMNCN CV","x":1615,"y":57.6},{"series":"PARETOMNCN CV","x":1610,"y":57.6},{"series":"PARETOMNCN CV","x":1605,"y":57.6},{"series":"PARETOMNCN CV","x":1600,"y":57.6},{"series":"PARETOMNCN CV","x":1595,"y":57.6},{"series":"PARETOMNCN CV","x":1590,"y":57.6},{"series":"PARETOMNCN CV","x":1585,"y":57.6},{"series":"PARETOMNCN CV","x":1580,"y":57.6},{"series":"PARETOMNCN CV","x":1575,"y":57.6},{"series":"PARETOMNCN CV","x":1570,"y":57.6},{"series":"PARETOMNCN CV","x":1565,"y":57.6},{"series":"PARETOMNCN CV","x":1560,"y":57.6},{"series":"PARETOMNCN CV","x":1555,"y":57.6},
{"series":"PARETOMNCN CV","x":1550,"y":66.7},{"series":"PARETOMNCN CV","x":1545,"y":66.7},{"series":"PARETOMNCN CV","x":1540,"y":66.7},{"series":"PARETOMNCN CV","x":1535,"y":66.7},{"series":"PARETOMNCN CV","x":1530,"y":66.7},{"series":"PARETOMNCN CV","x":1525,"y":66.7},{"series":"PARETOMNCN CV","x":1520,"y":66.7},{"series":"PARETOMNCN CV","x":1515,"y":66.7},{"series":"PARETOMNCN CV","x":1510,"y":66.7},{"series":"PARETOMNCN CV","x":1505,"y":66.7},{"series":"PARETOMNCN CV","x":1500,"y":66.7},
{"series":"PARETOMNCN CV","x":1485,"y":72.6},{"series":"PARETOMNCN CV","x":1480,"y":72.6},{"series":"PARETOMNCN CV","x":1475,"y":72.6},{"series":"PARETOMNCN CV","x":1470,"y":72.6},{"series":"PARETOMNCN CV","x":1467,"y":74.7},{"series":"PARETOMNCN CV","x":1466,"y":80.6},{"series":"PARETOMNCN CV","x":1459,"y":80.6},
{"series":"PARETOMNCN CV","x":1460,"y":83.0},{"series":"PARETOMNCN CV","x":1450,"y":83.9},{"series":"PARETOMNCN CV","x":1440,"y":84.5},{"series":"PARETOMNCN CV","x":1430,"y":84.6},{"series":"PARETOMNCN CV","x":1420,"y":84.9},{"series":"PARETOMNCN CV","x":1410,"y":85.0},{"series":"PARETOMNCN CV","x":1400,"y":85.0},{"series":"PARETOMNCN CV","x":1390,"y":85.1},{"series":"PARETOMNCN CV","x":1380,"y":85.0},{"series":"PARETOMNCN CV","x":1370,"y":84.9},{"series":"PARETOMNCN CV","x":1360,"y":85.5},{"series":"PARETOMNCN CV","x":1350,"y":86.2},{"series":"PARETOMNCN CV","x":1340,"y":86.6},{"series":"PARETOMNCN CV","x":1330,"y":86.4},{"series":"PARETOMNCN CV","x":1320,"y":86.4},{"series":"PARETOMNCN CV","x":1310,"y":86.2},{"series":"PARETOMNCN CV","x":1300,"y":86.3},{"series":"PARETOMNCN CV","x":1290,"y":86.1},{"series":"PARETOMNCN CV","x":1280,"y":86.4},{"series":"PARETOMNCN CV","x":1270,"y":86.5},{"series":"PARETOMNCN CV","x":1260,"y":86.7},{"series":"PARETOMNCN CV","x":1250,"y":86.7},{"series":"PARETOMNCN CV","x":1240,"y":86.7},{"series":"PARETOMNCN CV","x":1230,"y":86.5},{"series":"PARETOMNCN CV","x":1220,"y":86.7},{"series":"PARETOMNCN CV","x":1210,"y":86.7},{"series":"PARETOMNCN CV","x":1200,"y":86.8},{"series":"PARETOMNCN CV","x":1190,"y":86.6},{"series":"PARETOMNCN CV","x":1180,"y":86.7},{"series":"PARETOMNCN CV","x":1170,"y":86.5},{"series":"PARETOMNCN CV","x":1160,"y":86.5},{"series":"PARETOMNCN CV","x":1150,"y":86.3},{"series":"PARETOMNCN CV","x":1140,"y":86.2},{"series":"PARETOMNCN CV","x":1130,"y":86.1},{"series":"PARETOMNCN CV","x":1120,"y":85.9},{"series":"PARETOMNCN CV","x":1110,"y":85.8},{"series":"PARETOMNCN CV","x":1100,"y":85.6}
]
},
"data": {"name": "pts"},
"layer": [
  {
    "transform": [{"filter": "datum.series == 'AUTO CV'"}],
    "mark": {"type": "point", "filled": true, "strokeWidth": 0, "opacity": 1, "size": 40},
    "encoding": {
      "x": {"field": "x", "type": "quantitative",
            "scale": {"domain": [1000, 2400], "reverse": true, "nice": false, "zero": false},
            "axis": {"orient": "bottom", "values": [1000, 1200, 1400, 1600, 1800, 2000, 2200, 2400], "format": "d", "ticks": false, "labelPadding": 7, "title": "Window central position (cm⁻¹)", "titleFontSize": 14, "titleFontWeight": "bold", "titleX": 302, "titleY": 32, "titleBaseline": "middle"}},
      "y": {"field": "y", "type": "quantitative",
            "scale": {"domain": [30, 90], "nice": false, "zero": false},
            "axis": {"orient": "left", "values": [30, 40, 50, 60, 70, 80, 90], "format": "d", "ticks": false, "labelPadding": 5, "title": "GLOBAL Efficiency", "titleFontSize": 13.5, "titleFontWeight": "normal", "titleX": -34, "titleY": 207, "titleAngle": 270, "titleBaseline": "middle", "titleAlign": "center"}},
      "color": {"field": "series", "type": "nominal",
                "scale": {"domain": ["AUTO TS", "AUTO CV", "PARETOMNCN TS", "PARETOMNCN CV"], "range": ["#4a4a4a", "#9a9a9a", "#7a7a7a", "#000000"]},
                "legend": {"orient": "none", "legendX": 419, "legendY": 284, "title": null}},
      "shape": {"field": "series", "type": "nominal",
                "scale": {"domain": ["AUTO TS", "AUTO CV", "PARETOMNCN TS", "PARETOMNCN CV"], "range": ["circle", "M0,-1L0.235,-0.324L0.951,-0.309L0.38,0.124L0.588,0.809L0,0.4L-0.588,0.809L-0.38,0.124L-0.951,-0.309L-0.235,-0.324Z", "circle", "circle"]},
                "legend": {"orient": "none", "legendX": 419, "legendY": 284, "title": null}}
    }
  },
  {
    "transform": [{"filter": "datum.series == 'PARETOMNCN TS'"}],
    "mark": {"type": "point", "filled": true, "strokeWidth": 0, "opacity": 1, "size": 18},
    "encoding": {
      "x": {"field": "x", "type": "quantitative", "axis": null},
      "y": {"field": "y", "type": "quantitative", "axis": null},
      "color": {"field": "series", "type": "nominal"},
      "shape": {"field": "series", "type": "nominal"}
    }
  },
  {
    "transform": [{"filter": "datum.series == 'AUTO TS'"}],
    "mark": {"type": "point", "filled": true, "strokeWidth": 0, "opacity": 1, "size": 14},
    "encoding": {
      "x": {"field": "x", "type": "quantitative", "axis": null},
      "y": {"field": "y", "type": "quantitative", "axis": null},
      "color": {"field": "series", "type": "nominal"},
      "shape": {"field": "series", "type": "nominal"}
    }
  },
  {
    "transform": [{"filter": "datum.series == 'PARETOMNCN CV'"}],
    "mark": {"type": "point", "filled": true, "strokeWidth": 0, "opacity": 1, "size": 10},
    "encoding": {
      "x": {"field": "x", "type": "quantitative", "axis": {"orient": "bottom", "values": [1000, 1200, 1400, 1600, 1800, 2000, 2200, 2400], "labels": false, "title": null, "offset": -5}},
      "y": {"field": "y", "type": "quantitative", "axis": {"orient": "left", "values": [30, 40, 50, 60, 70, 80, 90], "labels": false, "title": null, "offset": -5}},
      "color": {"field": "series", "type": "nominal"},
      "shape": {"field": "series", "type": "nominal"}
    }
  },
  {
    "transform": [{"filter": "datum.series == 'AUTO TS'"}],
    "mark": {"type": "point", "opacity": 0},
    "encoding": {
      "x": {"field": "x", "type": "quantitative", "axis": {"orient": "top", "values": [1000, 1200, 1400, 1600, 1800, 2000, 2200, 2400], "labels": false, "title": null, "offset": -5}},
      "y": {"field": "y", "type": "quantitative", "axis": {"orient": "right", "values": [30, 40, 50, 60, 70, 80, 90], "labels": false, "title": null, "offset": -5}}
    }
  }
],
"resolve": {"axis": {"x": "independent", "y": "independent"}}
}
